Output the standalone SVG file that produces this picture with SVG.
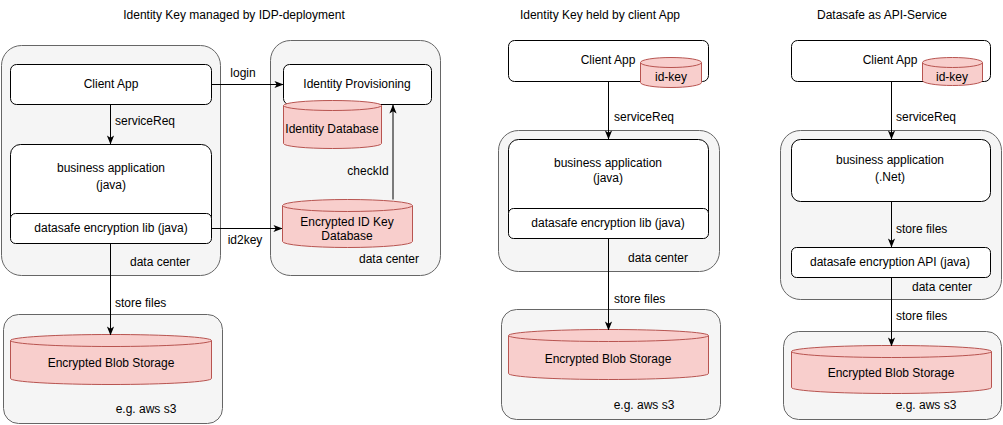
<svg xmlns="http://www.w3.org/2000/svg" width="1003" height="425" viewBox="0 0 1003 425">
<defs>
<marker id="arr" viewBox="0 0 10 10" markerWidth="9" markerHeight="9" refX="9.5" refY="5" orient="auto" markerUnits="userSpaceOnUse">
<path d="M0,1 L10,5 L0,9 L2.5,5 z" fill="#000"/>
</marker>
</defs>
<style>
text{font-family:"Liberation Sans",Arial,Helvetica,sans-serif;font-size:12px;fill:#000}
.c{text-anchor:middle}
.dc{fill:#f5f5f5;stroke:#666666;stroke-width:1}
.box{fill:#fff;stroke:#000;stroke-width:1}
.cyl{fill:#f8cecc;stroke:#b85450;stroke-width:1}
.ln{fill:none;stroke:#000;stroke-width:1;marker-end:url(#arr)}
</style>
<rect width="1003" height="425" fill="#fff"/>

<g id="titles">
<text class="c" x="234" y="19">Identity Key managed by IDP-deployment</text>
<text class="c" x="600" y="19">Identity Key held by client App</text>
<text class="c" x="882" y="19">Datasafe as API-Service</text>
</g>

<!-- Diagram 1 -->
<g id="dc1"><rect class="dc" x="1.5" y="45.5" width="219" height="230" rx="20"/><text class="c" x="160" y="266">data center</text></g>
<g id="dc2"><rect class="dc" x="270.5" y="40.5" width="170" height="235" rx="20"/><text class="c" x="389" y="263">data center</text></g>
<g id="s3a"><rect class="dc" x="3.5" y="314.5" width="219" height="109" rx="15"/><text class="c" x="146" y="413">e.g. aws s3</text></g>

<g id="client1"><rect class="box" x="10.5" y="64.5" width="201" height="40" rx="6"/><text class="c" x="111" y="88">Client App</text></g>
<g id="bizapp1"><rect class="box" x="10.5" y="144.5" width="201" height="99" rx="10"/><text class="c" x="111" y="172">business application</text><text class="c" x="111" y="189">(java)</text></g>
<g id="lib1"><rect class="box" x="10.5" y="213.5" width="201" height="30" rx="5"/><text class="c" x="111" y="232">datasafe encryption lib (java)</text></g>
<g id="idp"><rect class="box" x="283.5" y="64.5" width="148" height="40" rx="6"/><text class="c" x="357" y="88">Identity Provisioning</text></g>
<g id="iddb">
<path class="cyl" d="M283.5,105.5 A49,5 0 0 1 381.5,105.5 L381.5,143.5 A49,5 0 0 1 283.5,143.5 Z"/>
<path class="cyl" fill="none" d="M283.5,105.5 A49,5 0 0 0 381.5,105.5"/>
<text class="c" x="332" y="133">Identity Database</text></g>
<g id="keydb">
<path class="cyl" d="M282.5,205.5 A65,6 0 0 1 412.5,205.5 L412.5,241.5 A65,6 0 0 1 282.5,241.5 Z"/>
<path class="cyl" d="M282.5,205.5 A65,6 0 0 0 412.5,205.5"/>
<text class="c" x="347" y="226">Encrypted ID Key</text><text class="c" x="347" y="240">Database</text></g>
<g id="blob1">
<path class="cyl" d="M10.5,340.5 A100.5,6 0 0 1 211.5,340.5 L211.5,378.5 A100.5,6 0 0 1 10.5,378.5 Z"/>
<path class="cyl" d="M10.5,340.5 A100.5,6 0 0 0 211.5,340.5"/>
<text class="c" x="111" y="367">Encrypted Blob Storage</text></g>

<!-- Diagram 2 -->
<g id="dc3"><rect class="dc" x="498.5" y="130.5" width="221" height="141" rx="20"/><text class="c" x="658" y="262">data center</text></g>
<g id="s3b"><rect class="dc" x="501.5" y="309.5" width="219" height="110" rx="15"/><text class="c" x="644" y="409">e.g. aws s3</text></g>
<g id="client2"><rect class="box" x="508.5" y="40.5" width="200" height="41" rx="6"/><text class="c" x="608" y="64">Client App</text></g>
<g id="idkey2">
<path class="cyl" d="M640.5,62.5 A30.5,5 0 0 1 701.5,62.5 L701.5,82.5 A30.5,5 0 0 1 640.5,82.5 Z"/>
<path class="cyl" d="M640.5,62.5 A30.5,5 0 0 0 701.5,62.5"/>
<text class="c" x="671" y="81">id-key</text></g>
<g id="bizapp2"><rect class="box" x="508.5" y="139.5" width="200" height="99" rx="10"/><text class="c" x="608" y="167">business application</text><text class="c" x="608" y="182">(java)</text></g>
<g id="lib2"><rect class="box" x="508.5" y="208.5" width="200" height="30" rx="5"/><text class="c" x="608" y="227">datasafe encryption lib (java)</text></g>
<g id="blob2">
<path class="cyl" d="M508.5,335.5 A100,6 0 0 1 708.5,335.5 L708.5,373.5 A100,6 0 0 1 508.5,373.5 Z"/>
<path class="cyl" d="M508.5,335.5 A100,6 0 0 0 708.5,335.5"/>
<text class="c" x="608" y="363">Encrypted Blob Storage</text></g>

<!-- Diagram 3 -->
<g id="dc4"><rect class="dc" x="780.5" y="130.5" width="221" height="169" rx="20"/><text class="c" x="942" y="291">data center</text></g>
<g id="s3c"><rect class="dc" x="783.5" y="331.5" width="218" height="88" rx="15"/><text class="c" x="926" y="409">e.g. aws s3</text></g>
<g id="client3"><rect class="box" x="791.5" y="40.5" width="199" height="41" rx="6"/><text class="c" x="890" y="64">Client App</text></g>
<g id="idkey3">
<path class="cyl" d="M922.5,62.5 A30,5 0 0 1 982.5,62.5 L982.5,80.5 A30,5 0 0 1 922.5,80.5 Z"/>
<path class="cyl" d="M922.5,62.5 A30,5 0 0 0 982.5,62.5"/>
<text class="c" x="952" y="81">id-key</text></g>
<g id="bizapp3"><rect class="box" x="791.5" y="139.5" width="199" height="62" rx="9"/><text class="c" x="890" y="164">business application</text><text class="c" x="890" y="181">(.Net)</text></g>
<g id="api3"><rect class="box" x="791.5" y="247.5" width="199" height="30" rx="5"/><text class="c" x="890" y="266">datasafe encryption API (java)</text></g>
<g id="blob3">
<path class="cyl" d="M791.5,351.5 A100,6 0 0 1 991.5,351.5 L991.5,387.5 A100,6 0 0 1 791.5,387.5 Z"/>
<path class="cyl" d="M791.5,351.5 A100,6 0 0 0 991.5,351.5"/>
<text class="c" x="891" y="377">Encrypted Blob Storage</text></g>

<g id="connectors">
<line class="ln" x1="110.5" y1="104.5" x2="110.5" y2="144"/>
<text x="115" y="125">serviceReq</text>
<line class="ln" x1="211.5" y1="84.5" x2="283" y2="84.5"/>
<text class="c" x="243" y="77">login</text>
<line class="ln" x1="211.5" y1="228.5" x2="282" y2="228.5"/>
<text class="c" x="245" y="244">id2key</text>
<line class="ln" x1="393" y1="199.5" x2="393" y2="105"/>
<text class="c" x="368" y="175">checkId</text>
<line class="ln" x1="110.5" y1="243.5" x2="110.5" y2="335"/>
<text x="115" y="307">store files</text>

<line class="ln" x1="608.5" y1="81.5" x2="608.5" y2="139"/>
<text x="614" y="121">serviceReq</text>
<line class="ln" x1="608.5" y1="238.5" x2="608.5" y2="330"/>
<text x="614" y="303">store files</text>

<line class="ln" x1="891.5" y1="81.5" x2="891.5" y2="139"/>
<text x="896" y="121">serviceReq</text>
<line class="ln" x1="891.5" y1="201.5" x2="891.5" y2="247"/>
<text x="896" y="233">store files</text>
<line class="ln" x1="891.5" y1="277.5" x2="891.5" y2="346"/>
<text x="896" y="320">store files</text>
</g>
</svg>
